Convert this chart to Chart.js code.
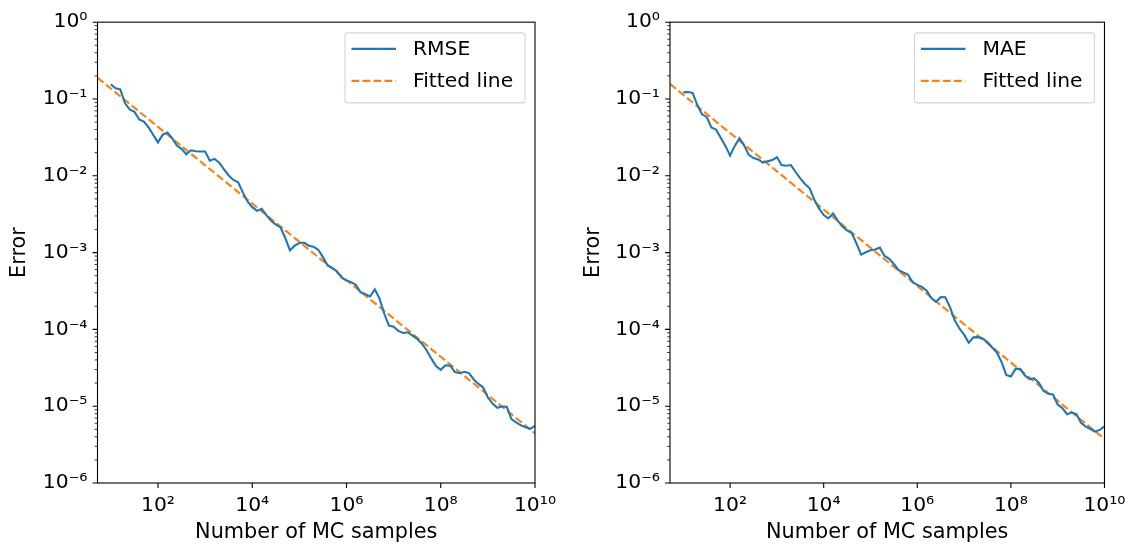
<!DOCTYPE html>
<html lang="en">
<head>
    <meta charset="UTF-8">
    <title>Monte Carlo error convergence</title>
    <script src="https://cdn.jsdelivr.net/npm/chart.js"></script>
    <style>
        body { margin: 0; background: #fff; }
        canvas.panel { position: absolute; top: 0; }
    </style>
</head>
<body>
    <canvas id="rmseChart" class="panel" width="568" height="550" style="left:0"></canvas>
    <canvas id="maeChart" class="panel" width="568" height="550" style="left:568px"></canvas>

    <script>
        // Number of MC samples (10 points per decade, 10^1 .. 10^10)
        const samples = [
            1e1, 1.259e1, 1.585e1, 1.995e1, 2.512e1, 3.162e1, 3.981e1, 5.012e1, 6.31e1, 7.943e1,
            1e2, 1.259e2, 1.585e2, 1.995e2, 2.512e2, 3.162e2, 3.981e2, 5.012e2, 6.31e2, 7.943e2,
            1e3, 1.259e3, 1.585e3, 1.995e3, 2.512e3, 3.162e3, 3.981e3, 5.012e3, 6.31e3, 7.943e3,
            1e4, 1.259e4, 1.585e4, 1.995e4, 2.512e4, 3.162e4, 3.981e4, 5.012e4, 6.31e4, 7.943e4,
            1e5, 1.259e5, 1.585e5, 1.995e5, 2.512e5, 3.162e5, 3.981e5, 5.012e5, 6.31e5, 7.943e5,
            1e6, 1.259e6, 1.585e6, 1.995e6, 2.512e6, 3.162e6, 3.981e6, 5.012e6, 6.31e6, 7.943e6,
            1e7, 1.259e7, 1.585e7, 1.995e7, 2.512e7, 3.162e7, 3.981e7, 5.012e7, 6.31e7, 7.943e7,
            1e8, 1.259e8, 1.585e8, 1.995e8, 2.512e8, 3.162e8, 3.981e8, 5.012e8, 6.31e8, 7.943e8,
            1e9, 1.259e9, 1.585e9, 1.995e9, 2.512e9, 3.162e9, 3.981e9, 5.012e9, 6.31e9, 7.943e9,
            1e10
        ];

        const rmse = [
            0.155, 0.138, 0.133, 0.0879, 0.0733, 0.0681, 0.0542, 0.0507, 0.0426, 0.034,
            0.0272, 0.0343, 0.0366, 0.0309, 0.0248, 0.0224, 0.0191, 0.0215, 0.0209, 0.0207,
            0.0207, 0.0157, 0.0166, 0.0148, 0.0121, 0.0101, 0.00882, 0.00822, 0.00608, 0.00463,
            0.0039, 0.00349, 0.00371, 0.00308, 0.0026, 0.00231, 0.00214, 0.00155, 0.00107, 0.00123,
            0.00133, 0.00135, 0.00123, 0.00119, 0.00109, 0.000873, 0.000679, 0.000634, 0.000566, 0.00047,
            0.000433, 0.000413, 0.000379, 0.000304, 0.000288, 0.000268, 0.000332, 0.000253, 0.000161, 0.000112,
            0.000108, 9.57e-5, 8.97e-5, 9.18e-5, 8.3e-5, 7.55e-5, 6.51e-5, 5.36e-5, 4.16e-5, 3.33e-5,
            2.98e-5, 3.41e-5, 3.37e-5, 2.78e-5, 2.69e-5, 2.81e-5, 2.7e-5, 2.23e-5, 1.95e-5, 1.75e-5,
            1.3e-5, 1.08e-5, 9.55e-6, 9.89e-6, 9.84e-6, 6.78e-6, 6.15e-6, 5.64e-6, 5.3e-6, 5.08e-6,
            5.56e-6
        ];

        const mae = [
            0.122, 0.123, 0.12, 0.0833, 0.0631, 0.0584, 0.0427, 0.04, 0.0312, 0.0245,
            0.0183, 0.0245, 0.0308, 0.0249, 0.0187, 0.017, 0.0163, 0.0148, 0.0154, 0.016,
            0.0174, 0.0138, 0.0135, 0.0138, 0.0112, 0.00925, 0.00783, 0.00686, 0.00487, 0.00376,
            0.00308, 0.00279, 0.00323, 0.00261, 0.00218, 0.00195, 0.0018, 0.00132, 0.00094, 0.00101,
            0.00107, 0.0011, 0.00116, 0.000904, 0.00083, 0.000711, 0.000592, 0.000552, 0.000517, 0.000413,
            0.00038, 0.000358, 0.00032, 0.000256, 0.000229, 0.000263, 0.000262, 0.000194, 0.000131, 0.000103,
            8.55e-5, 6.71e-5, 7.87e-5, 7.92e-5, 7.58e-5, 6.83e-5, 5.82e-5, 5.01e-5, 3.77e-5, 2.55e-5,
            2.44e-5, 3.06e-5, 3.07e-5, 2.51e-5, 2.25e-5, 2.31e-5, 2.01e-5, 1.58e-5, 1.45e-5, 1.42e-5,
            1.05e-5, 9.44e-6, 7.88e-6, 8.28e-6, 7.88e-6, 6.06e-6, 5.41e-6, 5.04e-6, 4.68e-6, 4.91e-6,
            5.46e-6
        ];

        // Fitted lines: end points only (straight lines in log-log)
        const fitX = [5.2, 1e10];
        const fitRmse = [0.189, 4.43e-6];
        const fitMae = [0.157, 3.75e-6];

        // Axis ticks
        const xMin = 5.2, xMax = 1e10;
        const yMin = 1e-6, yMax = 1;
        const xTicks = [1e2, 1e4, 1e6, 1e8, 1e10];
        const yTicks = [1e-6, 1e-5, 1e-4, 1e-3, 1e-2, 1e-1, 1];
        const yMinorSubs = [2, 3, 4, 5, 6, 7, 8, 9];

        const BLUE = '#1f77b4';
        const ORANGE = '#ff7f0e';
        const FONT = { family: "'DejaVu Sans', sans-serif", size: 20.3 };
        const TITLE_FONT = { family: "'DejaVu Sans', sans-serif", size: 20.8 };
        const DASH = [7.7, 3.3];

        const supDigits = { '0': '⁰', '1': '¹', '2': '²', '3': '³', '4': '⁴', '5': '⁵', '6': '⁶', '7': '⁷', '8': '⁸', '9': '⁹', '-': '⁻' };
        function powLabel(v) {
            const e = Math.round(Math.log10(v));
            return '10' + String(e).split('').map(c => supDigits[c]).join('');
        }

        // spines + matplotlib style tick marks
        const framePlugin = {
            id: 'frame',
            afterDraw(chart) {
                const { ctx, chartArea: a, scales: { x, y } } = chart;
                ctx.save();
                ctx.strokeStyle = '#000';
                ctx.lineWidth = 1.1;
                ctx.strokeRect(a.left, a.top, a.right - a.left, a.bottom - a.top);

                ctx.beginPath();
                yTicks.forEach(v => {
                    const py = y.getPixelForValue(v);
                    ctx.moveTo(a.left, py);
                    ctx.lineTo(a.left - 4.9, py);
                });
                xTicks.forEach(v => {
                    const px = x.getPixelForValue(v);
                    ctx.moveTo(px, a.bottom);
                    ctx.lineTo(px, a.bottom + 4.9);
                });
                ctx.stroke();

                ctx.lineWidth = 0.8;
                ctx.beginPath();
                yTicks.slice(0, -1).forEach(d => {
                    yMinorSubs.forEach(s => {
                        const py = y.getPixelForValue(d * s);
                        ctx.moveTo(a.left, py);
                        ctx.lineTo(a.left - 2.8, py);
                    });
                });
                ctx.stroke();
                ctx.restore();
            }
        };

        // legend box in the upper right corner of the axes
        const boxLegendPlugin = {
            id: 'boxLegend',
            afterDraw(chart) {
                const { ctx, chartArea: a } = chart;
                const w = 180, h = 70;
                const left = a.right - 10 - w, top = a.top + 10.7;
                ctx.save();
                ctx.fillStyle = 'rgba(255,255,255,0.8)';
                ctx.strokeStyle = '#d6d6d6';
                ctx.lineWidth = 1.1;
                ctx.beginPath();
                ctx.roundRect(left, top, w, h, 3);
                ctx.fill();
                ctx.stroke();

                ctx.font = `${FONT.size}px ${FONT.family}`;
                ctx.textBaseline = 'middle';
                ctx.fillStyle = '#000';
                chart.data.datasets.forEach((ds, i) => {
                    const cy = top + 16 + i * 32;
                    ctx.strokeStyle = ds.borderColor;
                    ctx.lineWidth = ds.borderWidth;
                    ctx.setLineDash(ds.borderDash || []);
                    ctx.beginPath();
                    ctx.moveTo(left + 6.5, cy);
                    ctx.lineTo(left + 51, cy);
                    ctx.stroke();
                    ctx.fillText(ds.label, left + 68, cy + 1);
                });
                ctx.restore();
            }
        };

        function makeChart(id, label, values, fitValues, yWidth, rightPad, yTitlePad) {
            return new Chart(document.getElementById(id), {
                type: 'line',
                data: {
                    datasets: [
                        {
                            label: label,
                            data: samples.map((s, i) => ({ x: s, y: values[i] })),
                            borderColor: BLUE,
                            borderWidth: 2.1,
                            pointRadius: 0,
                            tension: 0
                        },
                        {
                            label: 'Fitted line',
                            data: fitX.map((s, i) => ({ x: s, y: fitValues[i] })),
                            borderColor: ORANGE,
                            borderWidth: 2.1,
                            borderDash: DASH,
                            pointRadius: 0
                        }
                    ]
                },
                options: {
                    responsive: false,
                    animation: false,
                    devicePixelRatio: 1,
                    layout: { padding: { top: 16, right: rightPad, left: 0, bottom: 0 } },
                    plugins: {
                        legend: { display: false },
                        tooltip: { enabled: false }
                    },
                    scales: {
                        x: {
                            type: 'logarithmic',
                            min: xMin,
                            max: xMax,
                            afterFit(scale) { scale.height = 67; },
                            afterBuildTicks(scale) { scale.ticks = xTicks.map(v => ({ value: v })); },
                            grid: { display: false, drawTicks: false },
                            border: { display: false },
                            ticks: {
                                callback: v => powLabel(v),
                                font: FONT,
                                color: '#000',
                                padding: 10.5,
                                maxRotation: 0,
                                autoSkip: false
                            },
                            title: {
                                display: true,
                                text: 'Number of MC samples',
                                font: TITLE_FONT,
                                color: '#000',
                                padding: { top: 0, bottom: 5 }
                            }
                        },
                        y: {
                            type: 'logarithmic',
                            min: yMin,
                            max: yMax,
                            afterFit(scale) { scale.width = yWidth; },
                            afterBuildTicks(scale) { scale.ticks = yTicks.map(v => ({ value: v })); },
                            grid: { display: false, drawTicks: false },
                            border: { display: false },
                            ticks: {
                                callback: v => powLabel(v),
                                font: FONT,
                                color: '#000',
                                padding: 10,
                                autoSkip: false
                            },
                            title: {
                                display: true,
                                text: 'Error',
                                font: TITLE_FONT,
                                color: '#000',
                                padding: { top: yTitlePad, bottom: 0 }
                            }
                        }
                    }
                },
                plugins: [framePlugin, boxLegendPlugin]
            });
        }

        const rmseChart = makeChart('rmseChart', 'RMSE', rmse, fitRmse, 97.5, 33, 7.5);
        const maeChart = makeChart('maeChart', 'MAE', mae, fitMae, 102, 28.3, 13);
    </script>
</body>
</html>
